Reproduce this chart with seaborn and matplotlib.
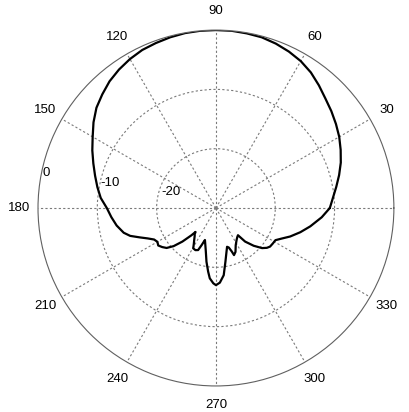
import numpy as np
import matplotlib
matplotlib.use("Agg")
import matplotlib.pyplot as plt
import seaborn as sns

# Radiation pattern (angle in degrees, gain in dB)
angle_deg = [0, 5, 10, 15, 20, 25, 30, 35, 40, 45, 50, 55, 60, 65, 70, 75, 80, 85,
             90, 95, 100, 105, 110, 115, 120, 125, 130, 135, 140, 145, 150, 155,
             160, 165, 170, 175, 180, 185, 190, 195, 198, 201, 204, 207, 210, 213,
             216, 219, 222, 225, 228, 229.5, 231, 232.6, 235.7, 238.3, 240.6, 244,
             247, 248.9, 251, 253, 256.6, 260, 263, 265, 268, 270, 273, 276.6, 280,
             283, 286, 288, 290, 291, 294, 298, 303, 306, 309, 311, 315, 319, 322,
             324.5, 328, 331.6, 335, 339, 344, 349, 355, 360]
gain_db = [-10.8, -10.2, -9.4, -8.5, -7.6, -6.8, -6.0, -5.3, -4.6, -3.9, -3.0, -2.1,
           -1.4, -0.9, -0.5, -0.2, -0.1, 0.0, 0.0, 0.0, -0.05, -0.2, -0.4, -0.6,
           -1.0, -1.5, -2.1, -2.9, -3.7, -4.8, -6.0, -7.0, -8.0, -8.9, -9.7, -10.5,
           -11.6, -12.3, -13.0, -13.9, -14.8, -16.2, -17.4, -18.3, -18.6, -18.4,
           -18.8, -19.3, -20.4, -22.0, -23.8, -24.7, -24.3, -24.1, -23.5, -22.9,
           -22.2, -22.1, -22.3, -23.3, -24.3, -23.8, -22.6, -20.8, -19.2, -18.1,
           -17.3, -17.0, -17.4, -18.6, -20.8, -22.2, -23.2, -23.0, -22.2, -21.5,
           -21.9, -22.9, -23.6, -23.9, -24.1, -22.5, -21.0, -19.7, -19.1, -18.8,
           -18.7, -18.6, -17.8, -16.6, -15.2, -13.8, -12.1, -10.8]

theta_ticks = [0, 30, 60, 90, 120, 150, 180, 210, 240, 270, 300, 330]
r_ticks = [-20, -10, 0]
r_min, r_max = -30, 0

sns.set_style("white")
plt.rcParams['font.family'] = ['Liberation Sans', 'DejaVu Sans']

fig = plt.figure(figsize=(4.10, 4.12), dpi=100)
ax = fig.add_axes([0.0927, 0.0631, 0.868, 0.864], projection='polar')

sns.lineplot(x=np.deg2rad(angle_deg), y=gain_db, ax=ax, sort=False,
             color='black', linewidth=1.6, estimator=None)

ax.set_ylim(r_min, r_max)
ax.set_thetagrids(theta_ticks, labels=[''] * len(theta_ticks))
ax.set_rgrids(r_ticks[:-1], labels=[''] * (len(r_ticks) - 1))
ax.grid(True, color='#7a7a7a', linestyle=(0, (2, 2)), linewidth=0.8)
ax.spines['polar'].set_color('#606060')
ax.spines['polar'].set_linewidth(0.8)
ax.set_xlabel('')
ax.set_ylabel('')

# angle labels around the outside (the 0 one runs off the right edge, as in the original)
for t in theta_ticks:
    ax.text(np.deg2rad(t), 3.2, str(t), ha='center', va='center',
            fontsize=9.5, color='black', clip_on=False)

# radial labels, left aligned at each ring
r_label_pos = {-20: (163.3, -20.4), -10: (167.7, -10.0), 0: (168.6, -0.25)}
for rv in r_ticks:
    a, rr = r_label_pos[rv]
    ax.text(np.deg2rad(a), rr, str(rv), ha='left', va='center',
            fontsize=9.5, color='black', clip_on=False)

fig.savefig('out.png', dpi=100)
